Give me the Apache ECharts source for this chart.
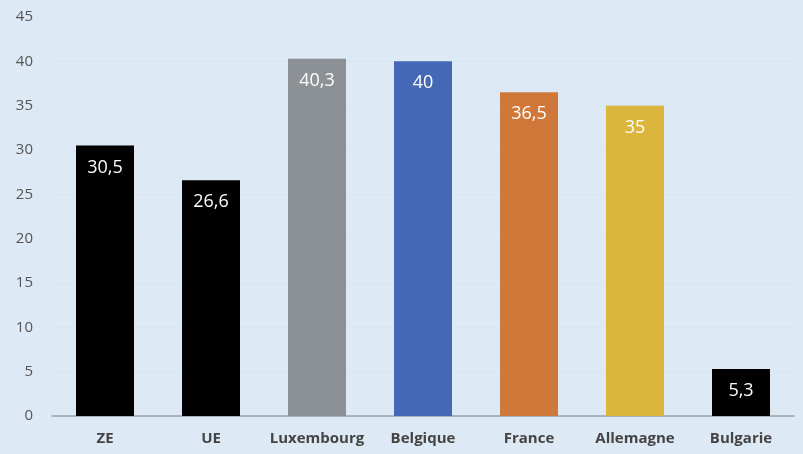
<!DOCTYPE html>
<html><head><meta charset="utf-8">
<script src="https://cdn.jsdelivr.net/npm/echarts@6/dist/echarts.min.js"></script>
<style>html,body{margin:0;padding:0;background:#dde9f5;}#c{width:803px;height:454px;}</style>
</head><body><div id="c"></div>
<script>
var categories = ['ZE','UE','Luxembourg','Belgique','France','Allemagne','Bulgarie'];
var values = [30.5, 26.6, 40.3, 40, 36.5, 35, 5.3];
var barColors = ['#000000','#000000','#8c9195','#4468b6','#cf783a','#dcb53c','#000000'];
var chart = echarts.init(document.getElementById('c'));
chart.setOption({
  backgroundColor: '#dde9f5',
  animation: false,
  grid: {left: 52, right: 9, top: 17, bottom: 38},
  xAxis: {
    type: 'category', data: categories,
    axisLine: {lineStyle: {color: '#9aa3ab', width: 1.5}},
    axisTick: {show: false},
    axisLabel: {interval: 0, color: '#444', fontSize: 15, fontWeight: 'bold', fontFamily: 'Open Sans', margin: 15}
  },
  yAxis: {
    type: 'value', min: 0, max: 45, interval: 5,
    axisLine: {show: false}, axisTick: {show: false},
    splitLine: {lineStyle: {color: '#d7e4f1', width: 1}},
    axisLabel: {color: '#555', fontSize: 15, fontFamily: 'Open Sans', margin: 19}
  },
  series: [{
    type: 'bar', barWidth: 58,
    data: values.map(function(v, i){ return {value: v, itemStyle: {color: barColors[i]}}; }),
    label: {
      show: true, position: 'insideTop', distance: 13, color: '#fff', fontSize: 18, fontFamily: 'Open Sans',
      formatter: function(p){ return String(p.value).replace('.', ','); }
    }
  }]
});
</script></body></html>
